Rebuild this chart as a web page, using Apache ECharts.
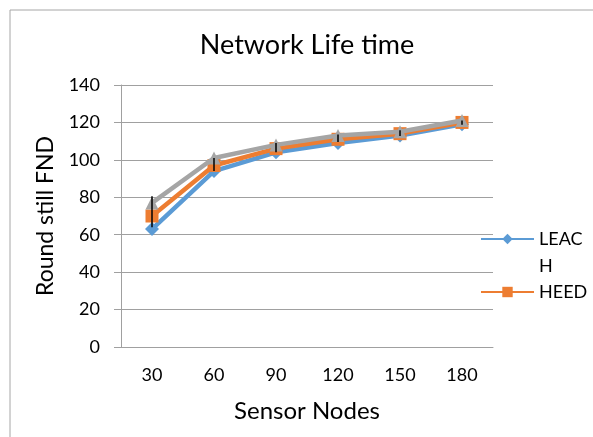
<!DOCTYPE html>
<html>
<head>
<meta charset="utf-8">
<script src="https://cdn.jsdelivr.net/npm/echarts@6/dist/echarts.min.js"></script>
<style>html,body{margin:0;padding:0;background:#fff}#c{width:593px;height:437px}</style>
</head>
<body>
<div id="c"></div>
<script>
var categories = ['30', '60', '90', '120', '150', '180'];
var leach = [63, 94, 104, 109, 113, 119];
var heed = [70, 97, 106, 111, 114, 120];
var third = [77, 101, 108, 113, 115, 121];
var errLow = [64, 94, 104, 109.5, 112.7, 118.7];
var errHigh = [80.5, 101, 109, 113.5, 115.8, 121];
var yTicks = [0, 20, 40, 60, 80, 100, 120, 140];

var FONT = 'Lato';
var errData = categories.map(function (c, i) { return [i, errLow[i], errHigh[i]]; });

var chart = echarts.init(document.getElementById('c'));
chart.setOption({
  animation: false,
  backgroundColor: '#fff',
  title: {
    text: 'Network Life time',
    left: 307, top: 32, textAlign: 'center', padding: 0,
    textStyle: { fontFamily: FONT, fontSize: 27, fontWeight: 'normal', color: '#000' }
  },
  graphic: [
    { type: 'rect', shape: { x: 10, y: 10, width: 600, height: 450 }, style: { fill: 'none', stroke: '#a6a6a6', lineWidth: 1 }, silent: true },
    { type: 'text', left: 539, top: 257, style: { text: 'H', font: '18px ' + FONT, fill: '#000' } }
  ],
  legend: [
    {
      data: ['LEACH'], left: 480, top: 230, padding: 0, itemWidth: 53, itemHeight: 13,
      formatter: function (n) { return n.slice(0, 4); },
      textStyle: { fontFamily: FONT, fontSize: 18, color: '#000' }
    },
    {
      data: ['HEED'], left: 480, top: 283, padding: 0, itemWidth: 53, itemHeight: 13,
      textStyle: { fontFamily: FONT, fontSize: 18, color: '#000' }
    }
  ],
  grid: { left: 121, right: 100, top: 85, bottom: 90 },
  xAxis: {
    type: 'category', data: categories, boundaryGap: true,
    name: 'Sensor Nodes', nameLocation: 'middle', nameGap: 52,
    nameTextStyle: { fontFamily: FONT, fontSize: 24, color: '#000' },
    axisLine: { lineStyle: { color: '#a0a0a0', width: 1 } },
    axisTick: { show: false },
    axisLabel: { margin: 19, fontFamily: FONT, fontSize: 18, color: '#000' }
  },
  yAxis: {
    type: 'value', min: 0, max: 140, interval: 20,
    name: 'Round still FND', nameLocation: 'middle', nameGap: 64, nameRotate: 90,
    nameTextStyle: { fontFamily: FONT, fontSize: 23, color: '#000' },
    axisLine: { show: true, lineStyle: { color: '#a0a0a0', width: 1 } },
    axisTick: { show: true, inside: false, length: 7, lineStyle: { color: '#a0a0a0' } },
    splitLine: { lineStyle: { color: '#a0a0a0', width: 1 } },
    axisLabel: {
      margin: 21, fontFamily: FONT, fontSize: 18, color: '#000',
      formatter: function (v) { return yTicks.indexOf(v) >= 0 ? String(v) : ''; }
    }
  },
  series: [
    {
      name: 'LEACH', type: 'line', data: leach, symbol: 'diamond', symbolSize: 14,
      lineStyle: { color: '#5B9BD5', width: 4.5 }, itemStyle: { color: '#5B9BD5' }, z: 2
    },
    {
      name: 'HEED', type: 'line', data: heed, symbol: 'rect', symbolSize: 13,
      lineStyle: { color: '#ED7D31', width: 4.5 }, itemStyle: { color: '#ED7D31' }, z: 3
    },
    {
      name: 'Series3', type: 'line', data: third, symbol: 'triangle', symbolSize: 13,
      lineStyle: { color: '#A5A5A5', width: 4.5 }, itemStyle: { color: '#A5A5A5' }, z: 4
    },
    {
      name: 'err', type: 'custom', data: errData, z: 10,
      renderItem: function (params, api) {
        var p1 = api.coord([api.value(0), api.value(1)]);
        var p2 = api.coord([api.value(0), api.value(2)]);
        return { type: 'line', shape: { x1: p1[0], y1: p1[1], x2: p2[0], y2: p2[1] }, style: { stroke: '#000', lineWidth: 1.5 } };
      }
    }
  ]
});
</script>
</body>
</html>
